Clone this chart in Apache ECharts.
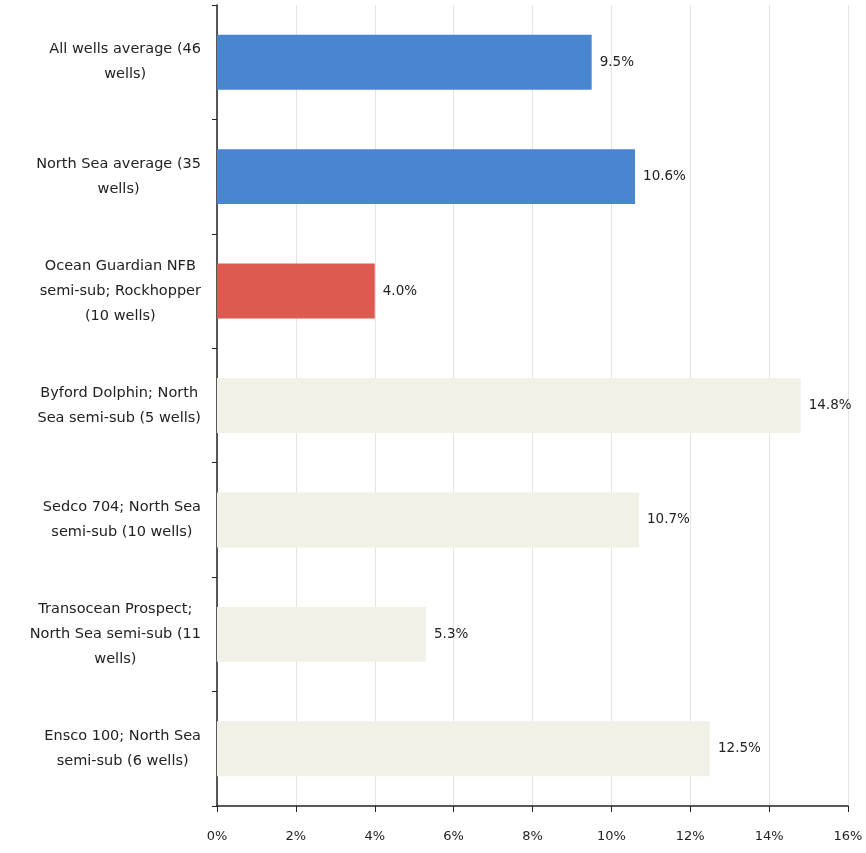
<!DOCTYPE html>
<html>
<head>
<meta charset="utf-8">
<script src="https://cdn.jsdelivr.net/npm/echarts@6/dist/echarts.min.js"></script>
<style>
html,body{margin:0;padding:0;background:#fff;}
#chart{width:866px;height:853px;}
</style>
</head>
<body>
<div id="chart"></div>
<script>
const categories = [
  "All wells average (46\nwells)",
  "North Sea average (35\nwells)",
  "Ocean Guardian NFB\nsemi-sub; Rockhopper\n(10 wells)",
  "Byford Dolphin; North\nSea semi-sub (5 wells)",
  "Sedco 704; North Sea\nsemi-sub (10 wells)",
  "Transocean Prospect;\nNorth Sea semi-sub (11\nwells)",
  "Ensco 100; North Sea\nsemi-sub (6 wells)"
];
const values = [9.5, 10.6, 4.0, 14.8, 10.7, 5.3, 12.5];
const barColors = ["#4a85d0", "#4a85d0", "#dc5a50", "#f1f1e8", "#f1f1e8", "#f1f1e8", "#f1f1e8"];
const xTicks = [0, 2, 4, 6, 8, 10, 12, 14, 16];

const FONT = 'DejaVu Sans';
const chart = echarts.init(document.getElementById('chart'));
chart.setOption({
  animation: false,
  backgroundColor: '#ffffff',
  grid: { left: 217, right: 18, top: 5, bottom: 47, containLabel: false },
  xAxis: {
    type: 'value',
    min: xTicks[0],
    max: xTicks[xTicks.length - 1],
    interval: 2,
    axisLine: { show: true, lineStyle: { color: '#222', width: 1.5 } },
    axisTick: { show: true, length: 6, lineStyle: { color: '#222' } },
    splitLine: { show: true, lineStyle: { color: '#e4e4e4', width: 1 } },
    axisLabel: {
      formatter: v => v + '%',
      color: '#222',
      fontFamily: FONT,
      fontSize: 13,
      margin: 24
    }
  },
  yAxis: {
    type: 'category',
    data: categories,
    inverse: true,
    axisLine: { show: true, lineStyle: { color: '#222', width: 1.5 } },
    axisTick: { show: true, length: 5, lineStyle: { color: '#222' } },
    axisLabel: {
      color: '#222',
      fontFamily: FONT,
      fontSize: 14.5,
      margin: 16,
      align: 'right',
      formatter: v => v.split('\n').map(l => '{c|' + l + '}').join('\n'),
      rich: {
        c: { align: 'center', lineHeight: 25, fontFamily: FONT, fontSize: 14.5, color: '#222' }
      }
    }
  },
  series: [{
    type: 'bar',
    data: values.map((v, i) => ({ value: v, itemStyle: { color: barColors[i] } })),
    barWidth: '48%',
    label: {
      show: true,
      position: 'right',
      distance: 8,
      formatter: p => p.value.toFixed(1) + '%',
      color: '#222',
      fontFamily: FONT,
      fontSize: 13.5
    }
  }]
});
</script>
</body>
</html>
